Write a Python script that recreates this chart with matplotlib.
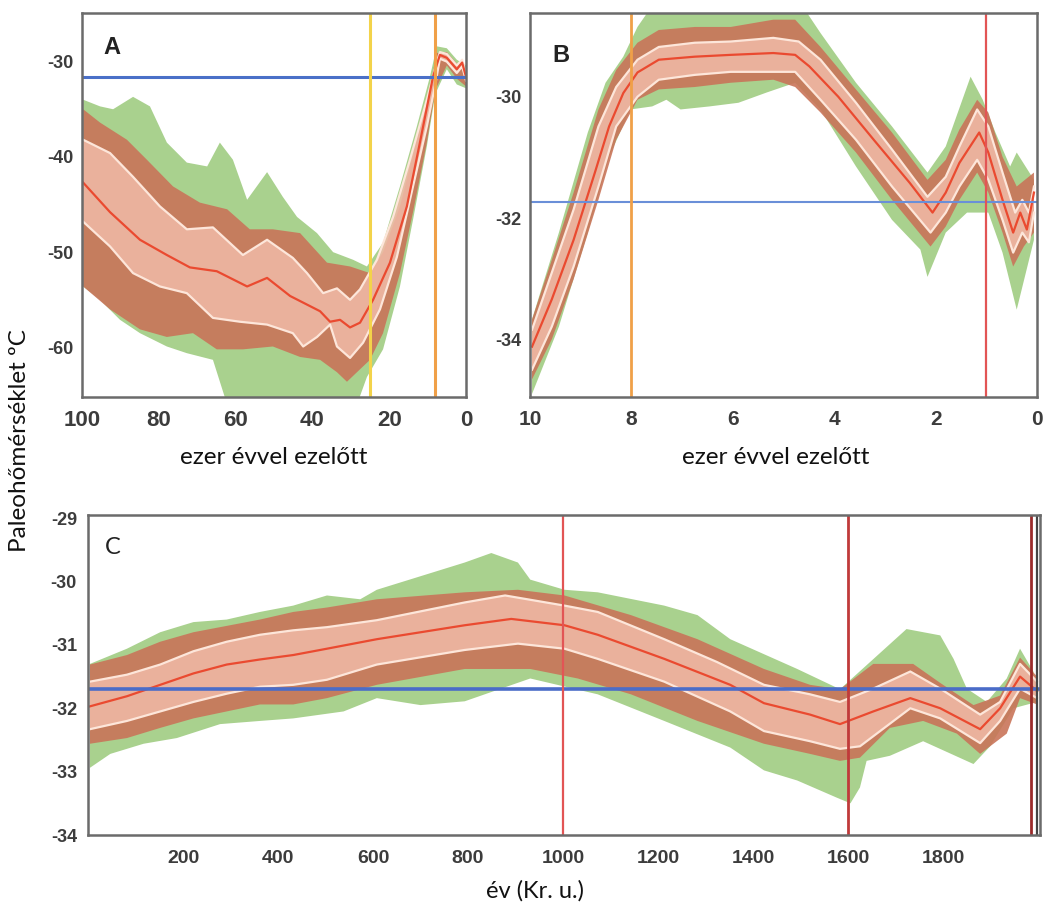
import numpy as np
import matplotlib
matplotlib.use("Agg")
import matplotlib.pyplot as plt

plt.rcParams["axes.unicode_minus"] = False

# ---------------- panel A (ezer évvel ezelőtt, 100 -> 0) ----------------
a_mean_x = [99.7, 92.7, 84.9, 77.9, 71.9, 64.9, 57.0, 51.8, 45.8, 38.0, 35.4, 32.8, 30.2, 27.6, 24.2, 19.8, 15.4, 12.0, 8.6, 6.8, 5.0, 2.4, 1.0, 0.0]
a_mean_y = [-42.7, -45.8, -48.7, -50.3, -51.6, -52.0, -53.6, -52.7, -54.6, -56.2, -57.3, -57.1, -57.9, -57.4, -55.0, -51.1, -45.2, -38.5, -31.6, -29.3, -29.6, -30.8, -30.1, -31.6]

a_up_x = [99.7, 92.7, 86.7, 79.7, 72.7, 65.9, 58.1, 51.8, 45.1, 41.4, 37.2, 33.6, 30.2, 27.6, 23.2, 19.0, 14.6, 10.2, 8.0, 6.8, 5.0, 2.4, 1.0, 0.0]
a_up_y = [-38.2, -39.6, -42.1, -45.2, -47.6, -47.4, -50.3, -48.7, -50.6, -52.2, -54.3, -53.8, -55.0, -53.9, -50.8, -46.3, -40.3, -34.0, -30.6, -29.0, -29.2, -30.4, -29.8, -31.2]
a_lo_x = [99.7, 92.7, 86.7, 79.7, 72.7, 65.9, 58.9, 51.8, 45.1, 42.4, 38.8, 35.4, 33.6, 30.2, 26.8, 22.4, 18.0, 13.8, 10.2, 8.0, 6.8, 5.0, 2.4, 1.0, 0.0]
a_lo_y = [-46.8, -49.4, -52.2, -53.6, -54.3, -56.9, -57.3, -57.6, -58.5, -59.9, -58.9, -57.6, -59.9, -61.1, -59.5, -56.0, -50.5, -43.1, -36.8, -32.4, -29.7, -30.0, -31.2, -30.5, -32.0]

a_brown_up_x = [99.7, 95.3, 88.3, 83.1, 76.3, 69.3, 62.2, 56.3, 50.3, 43.2, 36.2, 30.2, 25.0, 21.6, 17.2, 12.8, 9.4, 7.6, 5.0, 2.4, 0.0]
a_brown_up_y = [-35.0, -36.4, -38.2, -40.3, -43.1, -44.8, -45.5, -47.6, -47.6, -48.0, -51.1, -51.5, -52.2, -50.0, -45.2, -38.2, -32.6, -29.1, -29.0, -30.2, -30.8]
a_brown_lo_x = [99.7, 92.7, 84.9, 77.9, 71.1, 64.9, 58.1, 50.3, 43.2, 38.0, 33.6, 31.0, 28.4, 25.0, 21.6, 17.2, 13.8, 10.2, 8.0, 5.0, 2.4, 0.0]
a_brown_lo_y = [-53.6, -56.0, -58.1, -58.9, -58.5, -60.2, -60.2, -59.9, -61.0, -61.3, -62.6, -63.6, -62.6, -61.3, -58.5, -52.2, -45.8, -38.5, -33.0, -30.4, -31.8, -32.6]

a_green_up_x = [99.7, 95.3, 91.9, 86.7, 82.3, 77.9, 72.7, 67.4, 64.1, 60.7, 57.0, 51.8, 47.7, 44.0, 38.8, 34.6, 29.4, 25.8, 21.6, 17.2, 12.8, 9.4, 7.6, 5.0, 2.4, 0.0]
a_green_up_y = [-34.0, -34.7, -35.0, -33.7, -34.7, -38.5, -40.6, -41.0, -38.5, -40.3, -44.5, -41.6, -44.2, -46.3, -48.0, -50.0, -50.8, -51.5, -49.0, -43.1, -36.8, -31.6, -28.4, -28.6, -29.8, -30.4]
a_green_lo_x = [99.7, 95.3, 90.1, 84.9, 77.9, 72.7, 65.9, 62.2, 28.4, 25.8, 21.6, 17.2, 13.8, 10.2, 8.0, 5.0, 2.4, 0.0]
a_green_lo_y = [-53.6, -55.0, -57.1, -58.5, -59.9, -60.6, -61.3, -66.0, -66.0, -63.1, -60.2, -53.6, -46.6, -38.9, -33.4, -30.8, -32.4, -32.8]

a_vlines = [25, 8]
a_ref = -31.6

# ---------------- panel B (ezer évvel ezelőtt, 10 -> 0) ----------------
b_mean_x = [9.96, 9.57, 9.14, 8.72, 8.44, 8.16, 7.88, 7.46, 6.75, 6.04, 5.2, 4.77, 4.49, 3.92, 3.22, 2.51, 2.06, 1.8, 1.53, 1.14, 0.96, 0.68, 0.47, 0.33, 0.2, 0.06]
b_mean_y = [-34.12, -33.34, -32.36, -31.25, -30.49, -29.94, -29.6, -29.39, -29.34, -29.31, -29.28, -29.31, -29.5, -30.0, -30.71, -31.42, -31.91, -31.58, -31.09, -30.59, -30.92, -31.7, -32.24, -31.91, -32.19, -31.58]

b_up_x = [9.96, 9.57, 9.14, 8.65, 8.3, 7.88, 7.46, 6.75, 6.04, 5.2, 4.7, 4.27, 3.57, 2.86, 2.16, 1.8, 1.53, 1.18, 0.96, 0.68, 0.43, 0.29, 0.16, 0.06]
b_up_y = [-33.84, -32.9, -31.86, -30.49, -29.84, -29.39, -29.18, -29.11, -29.09, -29.03, -29.09, -29.39, -30.1, -30.87, -31.65, -31.32, -30.82, -30.21, -30.49, -31.25, -31.91, -31.7, -31.91, -31.48]
b_lo_x = [9.96, 9.57, 9.14, 8.65, 8.3, 7.88, 7.46, 6.75, 6.04, 5.2, 4.77, 4.27, 3.57, 2.86, 2.1, 1.8, 1.53, 1.18, 0.96, 0.68, 0.47, 0.29, 0.16, 0.06]
b_lo_y = [-34.5, -33.79, -32.8, -31.48, -30.49, -30.0, -29.72, -29.64, -29.59, -29.59, -29.59, -30.05, -30.71, -31.48, -32.24, -31.91, -31.48, -31.04, -31.37, -32.03, -32.57, -32.24, -32.4, -31.91]

b_brown_up_x = [9.96, 9.57, 9.14, 8.65, 8.3, 7.88, 7.46, 6.75, 6.04, 5.2, 4.77, 4.27, 3.57, 2.86, 2.16, 1.8, 1.53, 1.18, 0.96, 0.68, 0.4, 0.06]
b_brown_up_y = [-33.67, -32.69, -31.58, -30.21, -29.56, -29.11, -28.9, -28.85, -28.85, -28.73, -28.73, -29.18, -29.88, -30.59, -31.37, -31.04, -30.54, -30.05, -30.26, -30.99, -31.48, -31.25]
b_brown_lo_x = [9.96, 9.57, 9.14, 8.65, 8.3, 7.88, 7.46, 6.75, 6.04, 5.2, 4.77, 4.27, 3.57, 2.86, 2.1, 1.8, 1.53, 1.18, 0.96, 0.68, 0.47, 0.26, 0.06]
b_brown_lo_y = [-34.66, -34.0, -33.01, -31.7, -30.71, -30.05, -29.88, -29.84, -29.77, -29.72, -29.84, -30.26, -30.92, -31.7, -32.47, -32.14, -31.7, -31.25, -31.58, -32.24, -32.8, -32.47, -32.24]

b_green_up_x = [9.96, 9.43, 8.86, 8.51, 8.16, 7.88, 7.59, 4.63, 4.27, 3.57, 2.86, 2.16, 1.8, 1.31, 1.07, 0.82, 0.53, 0.4, 0.06]
b_green_up_y = [-33.67, -32.24, -30.59, -29.77, -29.34, -28.85, -28.5, -28.5, -28.95, -29.77, -30.49, -31.25, -30.82, -29.67, -30.05, -30.59, -31.15, -30.92, -31.37]
b_green_lo_x = [9.96, 9.43, 8.86, 8.44, 8.02, 7.59, 7.31, 7.03, 6.46, 5.89, 5.33, 4.77, 4.27, 3.57, 2.86, 2.3, 2.16, 1.8, 1.38, 0.96, 0.68, 0.4, 0.19, 0.06]
b_green_lo_y = [-34.9, -33.79, -32.24, -30.99, -30.21, -30.16, -30.05, -30.21, -30.16, -30.1, -29.93, -29.77, -30.21, -31.15, -32.03, -32.52, -32.97, -32.24, -31.91, -31.91, -32.57, -33.51, -32.8, -32.36]

b_vlines = [8, 1]
b_ref = -31.73

# ---------------- panel C (év, Kr. u.) ----------------
c_mean_x = [4, 82, 152, 222, 292, 362, 432, 503, 608, 793, 891, 1003, 1073, 1213, 1352, 1423, 1520, 1583, 1653, 1731, 1794, 1878, 1920, 1962, 1998]
c_mean_y = [-31.97, -31.81, -31.63, -31.45, -31.31, -31.23, -31.16, -31.06, -30.91, -30.69, -30.59, -30.69, -30.84, -31.22, -31.63, -31.92, -32.1, -32.25, -32.05, -31.84, -32.0, -32.33, -32.0, -31.5, -31.73]

c_up_x = [4, 82, 152, 222, 292, 362, 432, 503, 608, 793, 878, 1003, 1073, 1213, 1324, 1423, 1520, 1583, 1653, 1731, 1794, 1878, 1920, 1962, 1998]
c_up_y = [-31.58, -31.47, -31.31, -31.1, -30.95, -30.84, -30.77, -30.72, -30.61, -30.33, -30.22, -30.38, -30.48, -30.91, -31.27, -31.63, -31.78, -31.9, -31.69, -31.42, -31.69, -32.1, -31.9, -31.3, -31.58]
c_lo_x = [4, 82, 152, 222, 292, 362, 432, 503, 608, 793, 905, 1003, 1073, 1213, 1352, 1423, 1520, 1583, 1625, 1731, 1794, 1878, 1920, 1962, 1998]
c_lo_y = [-32.33, -32.2, -32.05, -31.9, -31.77, -31.66, -31.63, -31.55, -31.31, -31.08, -30.98, -31.06, -31.22, -31.58, -32.05, -32.36, -32.52, -32.64, -32.6, -32.0, -32.16, -32.55, -32.2, -31.69, -31.84]

c_brown_up_x = [4, 82, 152, 222, 292, 362, 432, 503, 608, 793, 905, 1003, 1143, 1283, 1423, 1520, 1583, 1653, 1737, 1794, 1864, 1920, 1962, 1998]
c_brown_up_y = [-31.31, -31.16, -30.95, -30.8, -30.7, -30.6, -30.48, -30.41, -30.28, -30.17, -30.13, -30.22, -30.53, -30.91, -31.38, -31.63, -31.7, -31.3, -31.3, -31.6, -31.95, -31.8, -31.2, -31.5]
c_brown_lo_x = [4, 82, 152, 222, 292, 362, 432, 503, 608, 793, 931, 1031, 1143, 1283, 1423, 1520, 1583, 1625, 1688, 1758, 1829, 1878, 1934, 1962, 1998]
c_brown_lo_y = [-32.56, -32.47, -32.31, -32.16, -32.05, -31.94, -31.94, -31.84, -31.63, -31.38, -31.38, -31.53, -31.78, -32.2, -32.56, -32.72, -32.83, -32.78, -32.31, -32.2, -32.4, -32.72, -32.4, -31.84, -31.94]

c_green_up_x = [4, 82, 152, 222, 292, 362, 432, 503, 573, 608, 793, 849, 905, 931, 1003, 1073, 1213, 1283, 1352, 1493, 1583, 1639, 1723, 1794, 1822, 1850, 1892, 1934, 1962, 1990]
c_green_up_y = [-31.3, -31.06, -30.8, -30.64, -30.6, -30.48, -30.38, -30.22, -30.28, -30.13, -29.7, -29.55, -29.7, -29.97, -30.13, -30.17, -30.38, -30.53, -30.91, -31.38, -31.7, -31.32, -30.75, -30.85, -31.22, -31.69, -31.9, -31.53, -31.06, -31.42]
c_green_lo_x = [4, 47, 117, 187, 278, 362, 432, 538, 608, 700, 793, 931, 1073, 1213, 1352, 1423, 1493, 1576, 1605, 1625, 1639, 1688, 1758, 1864, 1899, 1948, 1998]
c_green_lo_y = [-32.94, -32.72, -32.56, -32.47, -32.25, -32.2, -32.16, -32.05, -31.84, -31.95, -31.89, -31.53, -31.78, -32.2, -32.62, -32.98, -33.14, -33.41, -33.5, -33.25, -32.83, -32.75, -32.52, -32.88, -32.6, -32.0, -31.9]

c_vlines = [1000, 1600, 1985, 1998]
c_ref = -31.7

GREEN = "#a9d18e"
BROWN = "#c97459"
INNER = "#f1bba8"
WHITE = "#fde6da"
RED = "#ea4a30"
TICK = "#3c3c3c"
TEXT_FONT = ["Lato", "DejaVu Sans"]


def band(ax, xu, yu, xl, yl, color, alpha=1.0):
    xs = np.r_[xu, xl[::-1]]
    ys = np.r_[yu, yl[::-1]]
    ax.fill(xs, ys, color=color, alpha=alpha, lw=0)


def draw(ax, d):
    band(ax, d["gux"], d["guy"], d["glx"], d["gly"], GREEN)
    band(ax, d["bux"], d["buy"], d["blx"], d["bly"], BROWN, 0.9)
    band(ax, d["ux"], d["uy"], d["lx"], d["ly"], INNER, 0.85)
    ax.plot(d["ux"], d["uy"], color=WHITE, lw=1.6)
    ax.plot(d["lx"], d["ly"], color=WHITE, lw=1.6)
    ax.plot(d["mx"], d["my"], color=RED, lw=1.6)


def style(ax, xsize, ysize, xpad, ypad):
    for s in ax.spines.values():
        s.set_color("#6b6b6b")
        s.set_linewidth(1.8)
    ax.tick_params(length=0, colors=TICK)
    ax.tick_params(axis="x", pad=xpad)
    ax.tick_params(axis="y", pad=ypad)
    for lab in ax.get_xticklabels():
        lab.set_fontsize(xsize)
        lab.set_fontweight("bold")
        lab.set_family("Liberation Sans")
    for lab in ax.get_yticklabels():
        lab.set_fontsize(ysize)
        lab.set_fontweight("bold")
        lab.set_family("Liberation Sans")


fig = plt.figure(figsize=(10.44, 9.07), dpi=100)

# panel A
axA = fig.add_axes([82 / 1044, 1 - 397 / 907, 384 / 1044, 384 / 907])
draw(axA, dict(gux=np.array(a_green_up_x), guy=np.array(a_green_up_y),
               glx=np.array(a_green_lo_x), gly=np.array(a_green_lo_y),
               bux=np.array(a_brown_up_x), buy=np.array(a_brown_up_y),
               blx=np.array(a_brown_lo_x), bly=np.array(a_brown_lo_y),
               ux=np.array(a_up_x), uy=np.array(a_up_y),
               lx=np.array(a_lo_x), ly=np.array(a_lo_y),
               mx=a_mean_x, my=a_mean_y))
axA.axhline(a_ref, color="#4a70c8", lw=2.2)
axA.axvline(a_vlines[0], color="#f3d34a", lw=2.2)
axA.axvline(a_vlines[1], color="#f0a048", lw=2.2)
axA.set_xlim(100, 0)
axA.set_ylim(-65.2, -24.9)
axA.set_xticks([100, 80, 60, 40, 20, 0])
axA.set_yticks([-30, -40, -50, -60])
style(axA, 16, 13, 9, 6)
axA.text(0.055, 0.91, "A", transform=axA.transAxes, fontsize=17, fontweight="bold",
         family="Liberation Sans", color="#222222", va="center")

# panel B
axB = fig.add_axes([530 / 1044, 1 - 397 / 907, 507 / 1044, 384 / 907])
draw(axB, dict(gux=np.array(b_green_up_x), guy=np.array(b_green_up_y),
               glx=np.array(b_green_lo_x), gly=np.array(b_green_lo_y),
               bux=np.array(b_brown_up_x), buy=np.array(b_brown_up_y),
               blx=np.array(b_brown_lo_x), bly=np.array(b_brown_lo_y),
               ux=np.array(b_up_x), uy=np.array(b_up_y),
               lx=np.array(b_lo_x), ly=np.array(b_lo_y),
               mx=b_mean_x, my=b_mean_y))
axB.axhline(b_ref, color="#6a8fd8", lw=1.5)
axB.axvline(b_vlines[0], color="#f0a048", lw=2.0)
axB.axvline(b_vlines[1], color="#e25555", lw=1.6)
axB.set_xlim(10, 0)
axB.set_ylim(-34.95, -28.62)
axB.set_xticks([10, 8, 6, 4, 2, 0])
axB.set_yticks([-30, -32, -34])
style(axB, 15, 13, 9, 6)
axB.text(0.045, 0.89, "B", transform=axB.transAxes, fontsize=17, fontweight="bold",
         family="Liberation Sans", color="#222222", va="center")

# panel C
axC = fig.add_axes([88 / 1044, 1 - 835 / 907, 952 / 1044, 320 / 907])
draw(axC, dict(gux=np.array(c_green_up_x), guy=np.array(c_green_up_y),
               glx=np.array(c_green_lo_x), gly=np.array(c_green_lo_y),
               bux=np.array(c_brown_up_x), buy=np.array(c_brown_up_y),
               blx=np.array(c_brown_lo_x), bly=np.array(c_brown_lo_y),
               ux=np.array(c_up_x), uy=np.array(c_up_y),
               lx=np.array(c_lo_x), ly=np.array(c_lo_y),
               mx=c_mean_x, my=c_mean_y))
axC.axhline(c_ref, color="#4a6cc8", lw=2.6)
axC.axvline(c_vlines[0], color="#e25555", lw=1.6)
axC.axvline(c_vlines[1], color="#c03a3a", lw=2.0)
axC.axvline(c_vlines[2], color="#9a2a2a", lw=2.0)
axC.axvline(c_vlines[3], color="#444444", lw=1.6)
axC.set_xlim(0, 2004)
axC.set_ylim(-34, -28.95)
axC.set_xticks([200, 400, 600, 800, 1000, 1200, 1400, 1600, 1800])
axC.set_yticks([-29, -30, -31, -32, -33, -34])
style(axC, 14, 13, 11, 8)
axC.text(0.018, 0.9, "C", transform=axC.transAxes, fontsize=17,
         family=TEXT_FONT, color="#222222", va="center")

# axis titles
fig.text(274 / 1044, 1 - 458 / 907, "ezer évvel ezelőtt", family=TEXT_FONT, fontsize=17.5,
         ha="center", va="center", color="#111111")
fig.text(776 / 1044, 1 - 458 / 907, "ezer évvel ezelőtt", family=TEXT_FONT, fontsize=17.5,
         ha="center", va="center", color="#111111")
fig.text(535 / 1044, 1 - 891 / 907, "év (Kr. u.)", family=TEXT_FONT, fontsize=17,
         ha="center", va="center", color="#111111")
fig.text(20 / 1044, 1 - 441 / 907, "Paleohőmérséklet ºC", family=TEXT_FONT, fontsize=17.5,
         rotation=90, ha="center", va="center", color="#111111")

fig.savefig("out.png", dpi=100)
